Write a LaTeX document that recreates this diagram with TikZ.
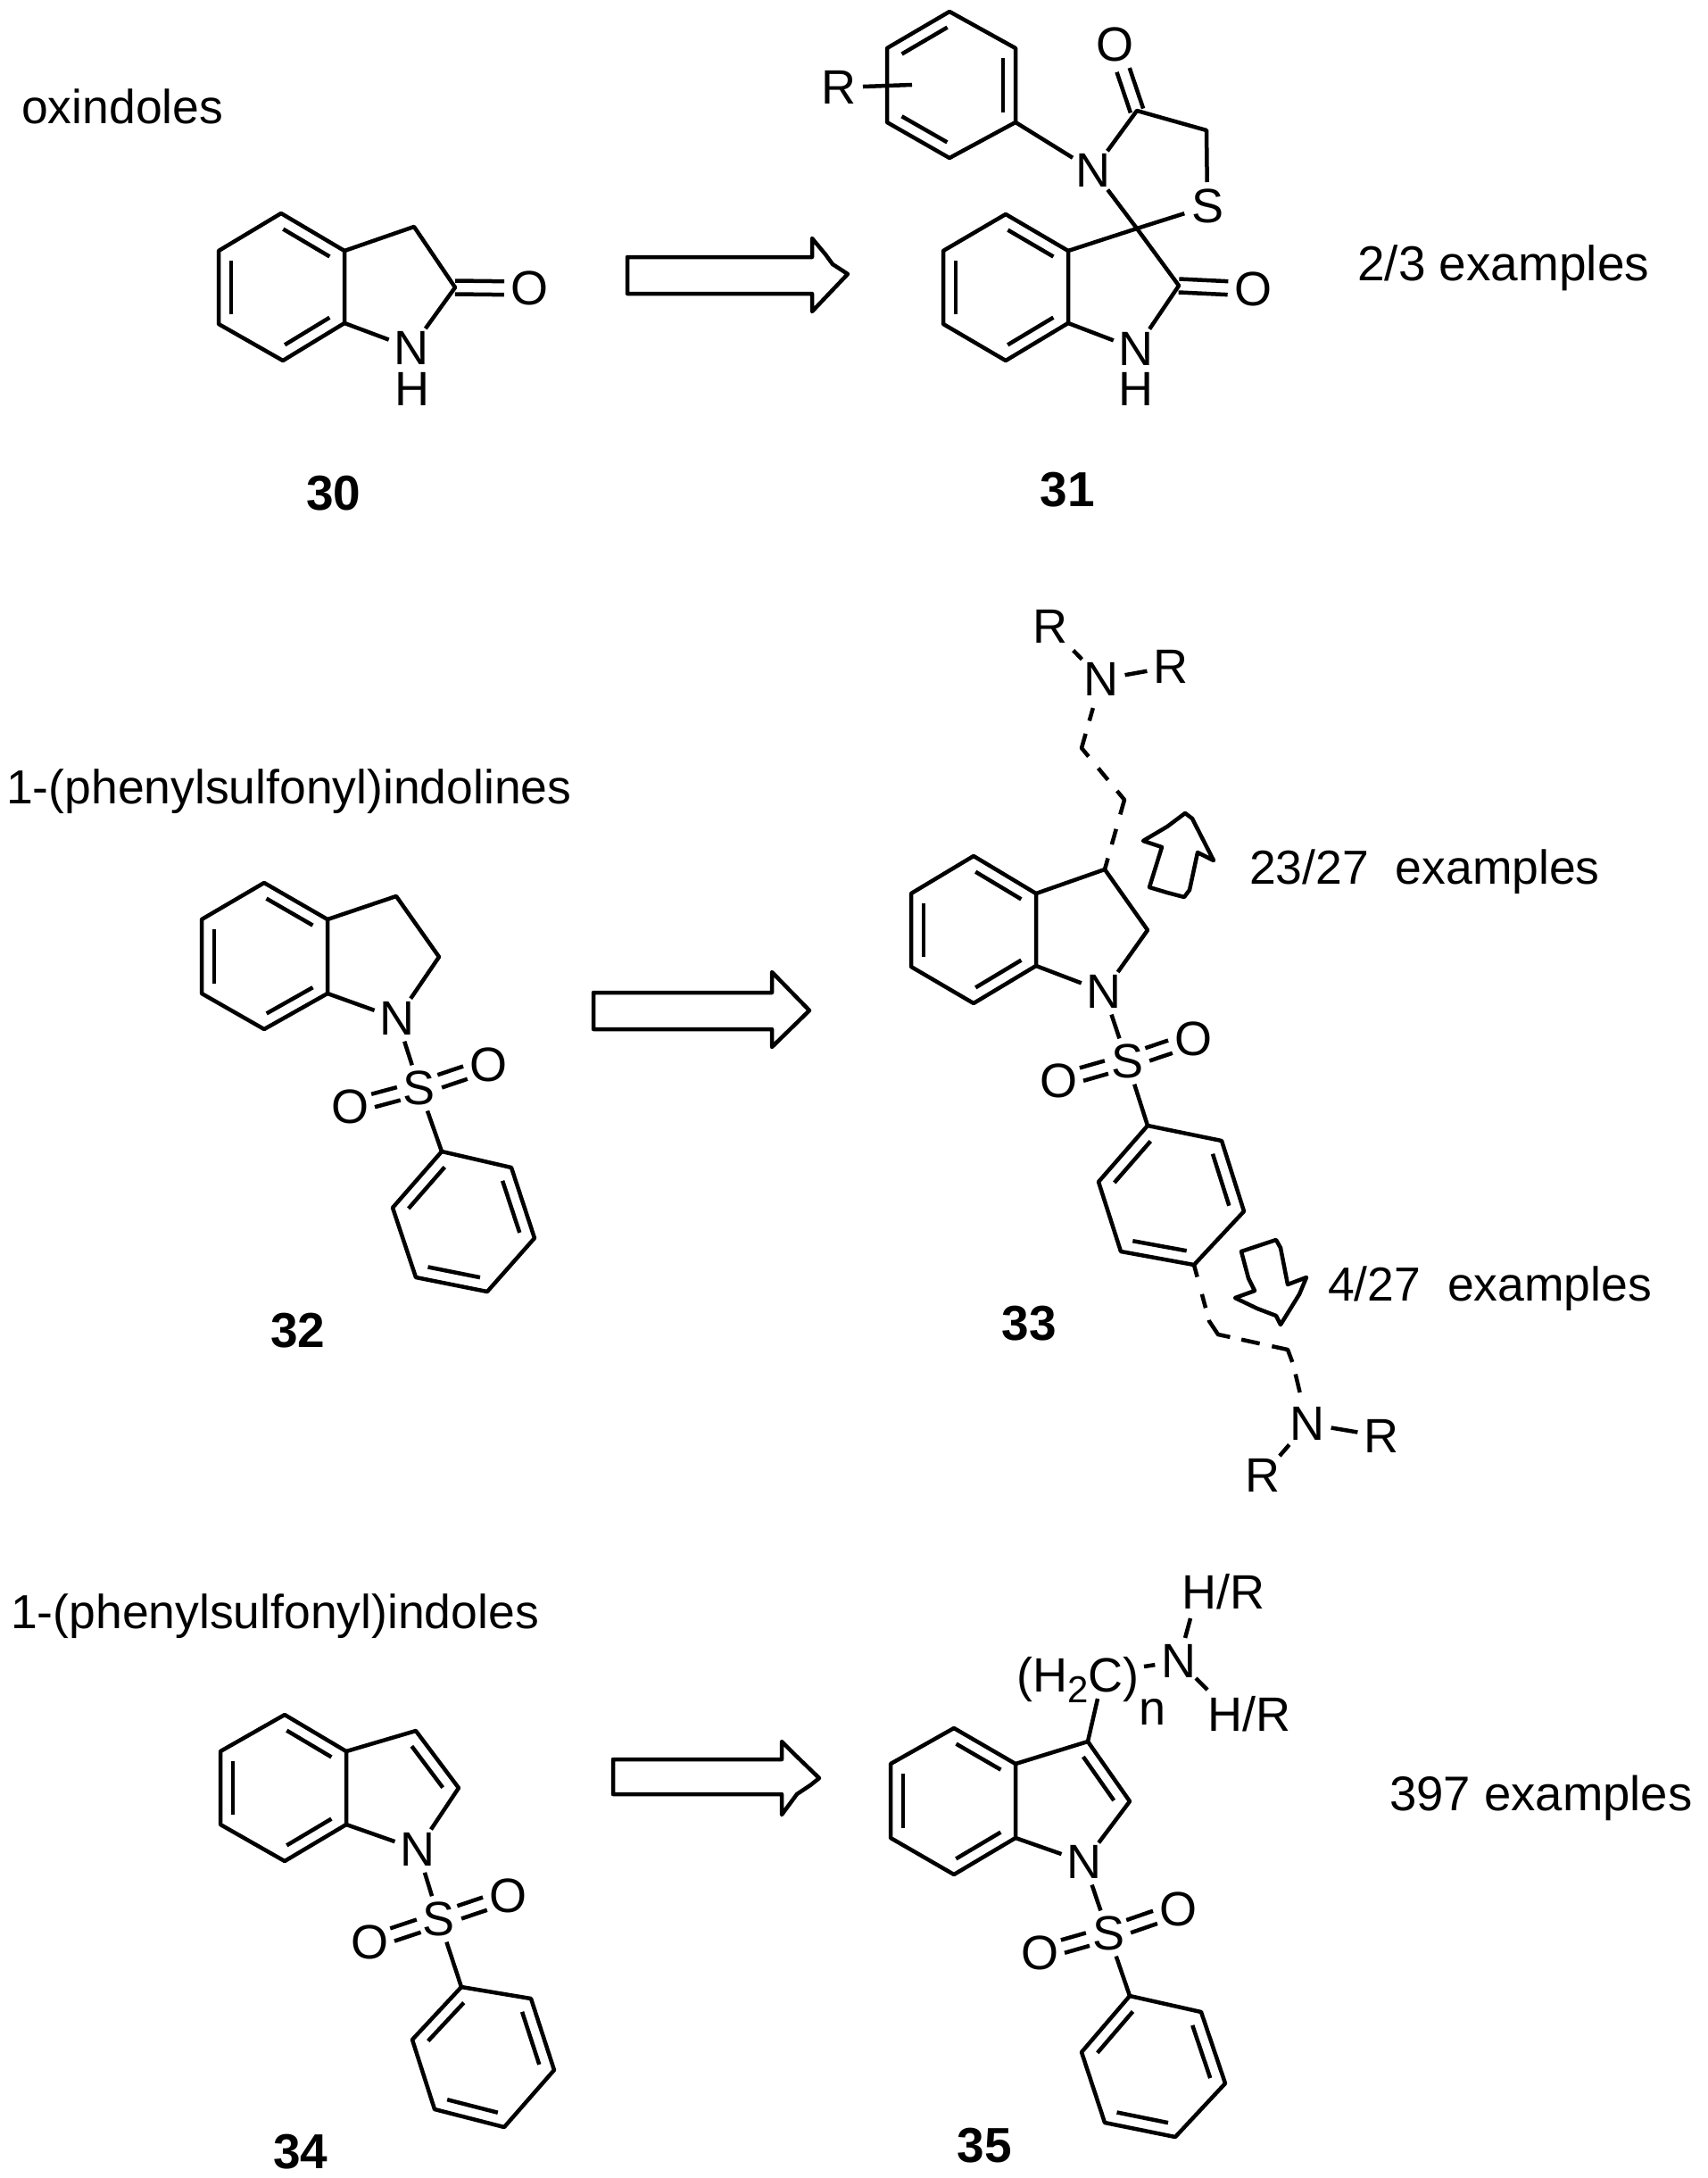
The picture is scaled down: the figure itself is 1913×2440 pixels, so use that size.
\documentclass[tikz,border=0pt]{standalone}
\usepackage{fontspec}
\setmainfont{Liberation Sans}
\usetikzlibrary{calc}

\newcommand{\benzring}[7]{
  \coordinate (#1a) at #2;
  \coordinate (#1b) at #3;
  \coordinate (#1c) at #4;
  \coordinate (#1d) at #5;
  \coordinate (#1e) at #6;
  \coordinate (#1f) at #7;
  \draw[bond] (#1a) to (#1b) to (#1c) to (#1d) to (#1e) to (#1f) -- cycle;
  \foreach \from/\till in {a/b,c/d,e/f}
    \draw[innerbond] ($(#1\from)!14pt!-90:(#1\till)$) to ($(#1\till)!14pt!90:(#1\from)$);
}
\newcommand{\dblbond}[4]{
  \draw[bond,shorten <=#3,shorten >=#4] ($(#1)!7.5pt!90:(#2)$) to ($(#2)!7.5pt!-90:(#1)$);
  \draw[bond,shorten <=#3,shorten >=#4] ($(#1)!7.5pt!-90:(#2)$) to ($(#2)!7.5pt!90:(#1)$);
}

\begin{document}
\begin{tikzpicture}[x=1pt,y=-1pt]
\tikzset{atom/.style = {shape=circle,inner sep=0pt,outer sep=0pt,minimum size=54pt,font=\fontsize{54}{60}\selectfont}}
\tikzset{hatom/.style = {atom,minimum size=0pt}}
\tikzset{bond/.style = {line width=4.5pt,line join=round}}
\tikzset{innerbond/.style = {bond,shorten <=11pt,shorten >=11pt}}
\tikzset{chainup/.style = {bond,dash pattern=on 13pt off 16pt on 18pt off 17pt on 30pt off 16pt on 17pt off 17pt on 29pt off 15pt on 15pt off 30pt}}
\tikzset{chaindown/.style = {bond,dash pattern=on 14pt off 20pt on 16pt off 14pt on 33pt off 13pt on 21pt off 14pt on 33pt off 14pt on 21pt off 30pt}}
\tikzset{blockarrow/.style = {draw,line width=4.5pt,line join=round}}
\tikzset{caption/.style = {inner sep=0pt,anchor=base west,font=\fontsize{53.5}{60}\selectfont}}
\tikzset{compound/.style = {inner sep=0pt,font=\fontsize{55}{60}\selectfont\bfseries}}

\useasboundingbox (0,0) rectangle (1913,2440);

% captions

\node[caption] (oxi) at (24,139) {oxindoles};
\node[caption] (ind) at (7,900) {1-(phenylsulfonyl)indolines};
\node[caption] (sul) at (12,1824) {1-(phenylsulfonyl)indoles};
\node[caption,font=\fontsize{55}{60}\selectfont] (ex31) at (1521,314) {2/3 examples};
\node[caption] (ex33a) at (1400,990) {23/27~ examples};
\node[caption] (ex33b) at (1488,1457) {4/27~ examples};
\node[caption,font=\fontsize{54.5}{60}\selectfont] (ex35) at (1557,2028) {397 examples};

\node[compound] (c30) at (374,553) {30};
\node[compound] (c31) at (1196,549) {31};
\node[compound] (c32) at (334,1491) {32};
\node[compound] (c33) at (1153,1483) {33};
\node[compound] (c34) at (337,2411) {34};
\node[compound] (c35) at (1103,2404) {35};

% reaction arrows

\draw[blockarrow] (703,288) -- (910,288) -- (910,267) -- (925,285) -- (933,296) -- (950,307)
  -- (910,349) -- (910,329) -- (703,329) -- cycle;
\draw[blockarrow] (665,1112) -- (865,1112) -- (865,1089) -- (907,1132) -- (865,1173)
  -- (865,1153) -- (665,1153) -- cycle;
\draw[blockarrow] (687,1971) -- (876,1971) -- (876,1951) -- (890,1965) -- (918,1992)
  -- (908,2000) -- (893,2010) -- (876,2033) -- (876,2010) -- (687,2010) -- cycle;

% site arrows

\draw[blockarrow] (1328,911) -- (1336,917) -- (1360,964) -- (1342,955) -- (1333,997) -- (1327,1005)
  -- (1308,1000) -- (1288,994) -- (1302,949) -- (1281,942) -- (1308,926) -- cycle;
\draw[blockarrow] (1391,1402) -- (1412,1395) -- (1430,1389) -- (1435,1398) -- (1443,1439) -- (1464,1431)
  -- (1456,1450) -- (1435,1484) -- (1430,1474) -- (1409,1466) -- (1384,1454) -- (1406,1446)
  -- (1399,1432) -- cycle;

% oxindole 30

\benzring{r}{(315,239)}{(386,281)}{(386,362)}{(317,404)}{(245,363)}{(245,281)}
\coordinate (r3) at (464,254);
\coordinate (r2) at (510,322);
\node[atom] (rn) at (461,390) {N};
\node[hatom] (rh) at (462,436) {H};
\node[atom] (ro) at (593,323) {O};

\draw[bond] (rb) to (r3) to (r2) to (rn);
\draw[bond] (rc) to (rn);
\dblbond{r2}{ro}{0pt}{28pt}

% spiro compound 31

\benzring{p}{(994,54)}{(1064,13)}{(1138,54)}{(1138,137)}{(1064,177)}{(994,137)}
\benzring{s}{(1127,240)}{(1197,281)}{(1197,362)}{(1127,404)}{(1057,363)}{(1057,281)}
\coordinate (sco) at (1274,124);
\coordinate (sch) at (1352,146);
\coordinate (spiro) at (1274,256);
\coordinate (s2) at (1321,320);
\coordinate (pend) at (1022,95);
\node[atom] (pr) at (940,98) {R};
\node[atom] (sn1) at (1225,191) {N};
\node[atom] (so1) at (1249,50) {O};
\node[atom] (ss) at (1353,231) {S};
\node[atom] (sn2) at (1273,391) {N};
\node[hatom] (sh) at (1273,436) {H};
\node[atom] (so2) at (1404,324) {O};

\draw[bond] (pr) to (pend);
\draw[bond] (pd) to (sn1);
\draw[bond] (sn1) to (sco) to (sch) to (ss);
\draw[bond] (sn1) to (spiro) to (s2) to (sn2);
\draw[bond] (sb) to (spiro) to (ss);
\draw[bond] (sc) to (sn2);
\dblbond{sco}{so1}{0pt}{30pt}
\dblbond{s2}{so2}{0pt}{28pt}

% indoline 32

\benzring{i}{(296,989)}{(367,1030)}{(367,1113)}{(296,1153)}{(226,1113)}{(226,1030)}
\benzring{j}{(440,1353)}{(495,1290)}{(573,1308)}{(599,1387)}{(546,1447)}{(466,1431)}
\coordinate (i3) at (444,1004);
\coordinate (i2) at (492,1072);
\node[atom] (in) at (445,1141) {N};
\node[atom] (is) at (470,1219) {S};
\node[atom] (io1) at (547,1193) {O};
\node[atom] (io2) at (392,1240) {O};

\draw[bond] (ib) to (i3) to (i2) to (in);
\draw[bond] (ic) to (in);
\draw[bond] (in) to (is);
\draw[bond] (is) to (jb);
\dblbond{is}{io1}{24pt}{27pt}
\dblbond{is}{io2}{24pt}{27pt}

% indoline 33

\benzring{k}{(1091,959)}{(1161,1001)}{(1161,1082)}{(1091,1124)}{(1021,1083)}{(1021,1001)}
\benzring{l}{(1231,1324)}{(1286,1261)}{(1369,1278)}{(1394,1357)}{(1338,1417)}{(1256,1402)}
\coordinate (k3) at (1238,974);
\coordinate (k2) at (1286,1042);
\coordinate (up1) at (1260,896);
\coordinate (up2) at (1212,838);
\coordinate (lo0) at (1355,1480);
\coordinate (lo1) at (1365,1495);
\coordinate (lo2) at (1443,1512);
\coordinate (lo3) at (1449,1528);
\node[atom] (kn) at (1237,1111) {N};
\node[atom] (ks) at (1263,1189) {S};
\node[atom] (ko1) at (1337,1164) {O};
\node[atom] (ko2) at (1186,1211) {O};
\node[atom] (un) at (1234,761) {N};
\node[atom] (ur1) at (1177,702) {R};
\node[atom] (ur2) at (1312,747) {R};
\node[atom] (ln) at (1465,1595) {N};
\node[atom] (lr1) at (1548,1609) {R};
\node[atom] (lr2) at (1415,1653) {R};

\draw[bond] (kb) to (k3) to (k2) to (kn);
\draw[bond] (kc) to (kn);
\draw[bond] (kn) to (ks);
\draw[bond] (ks) to (lb);
\dblbond{ks}{ko1}{24pt}{27pt}
\dblbond{ks}{ko2}{24pt}{27pt}
\draw[chainup] (k3) to (up1) to (up2) to (un);
\draw[chaindown] (le) to (lo0) to (lo1) to (lo2) to (lo3) to (ln);
\draw[bond,shorten <=4pt,shorten >=10pt] (un) to (ur1);
\draw[bond] (un) to (ur2);
\draw[bond] (ln) to (lr1);
\draw[bond,shorten <=4pt,shorten >=2pt] (ln) to (lr2);

% indole 34

\benzring{m}{(319,1921)}{(388,1962)}{(388,2044)}{(319,2085)}{(247,2044)}{(247,1962)}
\benzring{o}{(462,2285)}{(517,2226)}{(595,2239)}{(621,2319)}{(565,2383)}{(487,2363)}
\coordinate (m3) at (466,1939);
\coordinate (m2) at (514,2003);
\node[atom] (mn) at (468,2072) {N};
\node[atom] (ms) at (492,2150) {S};
\node[atom] (mo1) at (569,2124) {O};
\node[atom] (mo2) at (414,2176) {O};

\draw[bond] (mb) to (m3) to (m2) to (mn);
\draw[bond] (mc) to (mn);
\draw[innerbond] ($(m3)!14pt!-90:(m2)$) to ($(m2)!14pt!90:(m3)$);
\draw[bond] (mn) to (ms);
\draw[bond] (ms) to (ob);
\dblbond{ms}{mo1}{24pt}{27pt}
\dblbond{ms}{mo2}{24pt}{27pt}

% indole 35

\benzring{q}{(1069,1936)}{(1138,1976)}{(1138,2059)}{(1069,2100)}{(998,2059)}{(998,1976)}
\benzring{t}{(1212,2299)}{(1266,2236)}{(1346,2254)}{(1373,2334)}{(1317,2394)}{(1238,2378)}
\coordinate (q3) at (1219,1951);
\coordinate (q2) at (1266,2018);
\coordinate (ch2) at (1230,1903);
\coordinate (chend) at (1282,1867);
\coordinate (hr1end) at (1334,1813);
\coordinate (hr2end) at (1353,1893);
\node[caption,font=\fontsize{54}{60}\selectfont] (chn) at (1139,1895) {(H\raisebox{-12pt}{\fontsize{42}{42}\selectfont 2}C)\raisebox{-37pt}{n}};
\node[caption,font=\fontsize{54}{60}\selectfont] (hr1) at (1324,1802) {H/R};
\node[caption,font=\fontsize{54}{60}\selectfont] (hr2) at (1353,1939) {H/R};
\node[atom] (qa) at (1321,1861) {N};
\node[atom] (qn) at (1215,2086) {N};
\node[atom] (qs) at (1242,2166) {S};
\node[atom] (qo1) at (1320,2139) {O};
\node[atom] (qo2) at (1165,2188) {O};

\draw[bond] (qb) to (q3) to (q2) to (qn);
\draw[bond] (qc) to (qn);
\draw[innerbond] ($(q3)!14pt!-90:(q2)$) to ($(q2)!14pt!90:(q3)$);
\draw[bond] (q3) to (ch2);
\draw[bond] (chend) to (qa);
\draw[bond] (qa) to (hr1end);
\draw[bond] (qa) to (hr2end);
\draw[bond] (qn) to (qs);
\draw[bond] (qs) to (tb);
\dblbond{qs}{qo1}{24pt}{27pt}
\dblbond{qs}{qo2}{24pt}{27pt}
\end{tikzpicture}
\end{document}
